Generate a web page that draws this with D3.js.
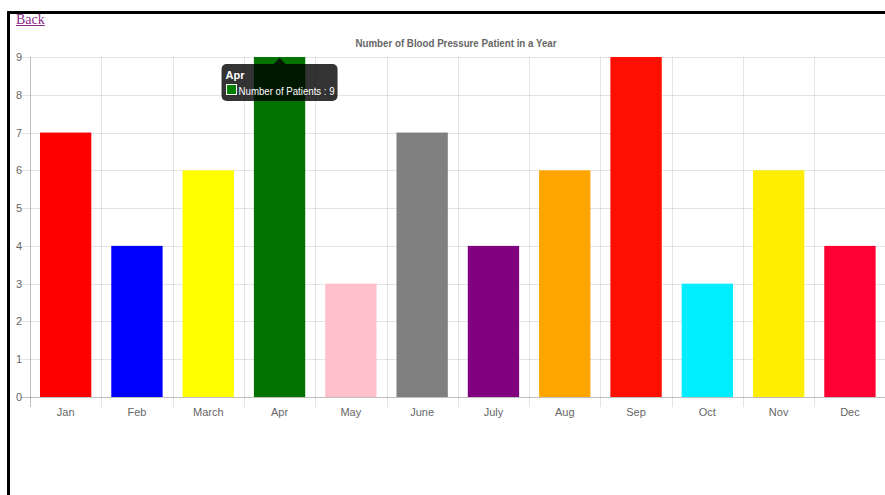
<!DOCTYPE html>
<html>
<head>
<meta charset="utf-8">
<style>
  body { margin: 0; background: #fff; }
  #frame { position: absolute; left: 7px; top: 11px; width: 900px; height: 500px;
           border-left: 3px solid #000; border-top: 3px solid #000; }
  #back { position: absolute; left: 16px; top: 12px; font-family: "Liberation Serif", "Times New Roman", serif;
          font-size: 14px; color: #8b2a8b; text-decoration: underline; }
  svg { position: absolute; left: 0; top: 0; }
</style>
</head>
<body>
<div id="frame"></div>
<a id="back" href="#">Back</a>
<svg width="885" height="495"></svg>
<script src="https://d3js.org/d3.v7.min.js"></script>
<script>

var months = ["Jan", "Feb", "March", "Apr", "May", "June", "July", "Aug", "Sep", "Oct", "Nov", "Dec"];
var patients = [7, 4, 6, 9, 3, 7, 4, 6, 9, 3, 6, 4];
var barColors = ["#ff0000", "#0000ff", "#ffff00", "#007300", "#ffc0cb", "#808080",
                 "#800080", "#ffa500", "#ff0f00", "#00eeff", "#ffee00", "#ff0033"];
var yTicks = [0, 1, 2, 3, 4, 5, 6, 7, 8, 9];
var title = "Number of Blood Pressure Patient in a Year";
var hoverIndex = 3;

var svg = d3.select("svg"),
    plotLeft = 30, plotRight = 885.6, plotTop = 57, plotBottom = 397;

var font = "'Liberation Sans', Arial, Helvetica, sans-serif";

var x = d3.scaleBand()
    .domain(months)
    .range([plotLeft, plotRight])
    .padding(0);

var y = d3.scaleLinear()
    .domain([0, 9])
    .range([plotBottom, plotTop]);

var bw = x.bandwidth();

svg.append("text")
    .attr("x", 456)
    .attr("y", 47)
    .attr("text-anchor", "middle")
    .attr("font-family", font)
    .attr("font-size", 11)
    .attr("font-weight", "bold")
    .attr("fill", "#666")
    .attr("textLength", 201)
    .attr("lengthAdjust", "spacingAndGlyphs")
    .text(title);

// horizontal grid
var gy = svg.append("g");
gy.selectAll("line")
  .data(yTicks)
  .enter().append("line")
    .attr("x1", plotLeft - 10)
    .attr("x2", plotRight)
    .attr("y1", function(d) { return Math.round(y(d)) + 0.5; })
    .attr("y2", function(d) { return Math.round(y(d)) + 0.5; })
    .attr("stroke", function(d) { return d == 0 ? "rgba(0,0,0,0.25)" : "rgba(0,0,0,0.1)"; })
    .attr("stroke-width", 1);

gy.selectAll("text")
  .data(yTicks)
  .enter().append("text")
    .attr("x", plotLeft - 8)
    .attr("y", function(d) { return y(d) + 4; })
    .attr("text-anchor", "end")
    .attr("font-family", font)
    .attr("font-size", 11)
    .attr("fill", "#666")
    .text(function(d) { return d; });

// vertical grid
var gx = svg.append("g");
gx.selectAll("line")
  .data(months)
  .enter().append("line")
    .attr("x1", function(d) { return Math.round(x(d)) + 0.5; })
    .attr("x2", function(d) { return Math.round(x(d)) + 0.5; })
    .attr("y1", plotTop)
    .attr("y2", plotBottom + 10)
    .attr("stroke", function(d, i) { return i == 0 ? "rgba(0,0,0,0.25)" : "rgba(0,0,0,0.1)"; })
    .attr("stroke-width", 1);

gx.selectAll("text")
  .data(months)
  .enter().append("text")
    .attr("x", function(d) { return x(d) + bw / 2; })
    .attr("y", plotBottom + 19)
    .attr("text-anchor", "middle")
    .attr("font-family", font)
    .attr("font-size", 11)
    .attr("fill", "#666")
    .text(function(d) { return d; });

// bars
svg.append("g")
  .selectAll("rect")
  .data(patients)
  .enter().append("rect")
    .attr("x", function(d, i) { return x(months[i]) + bw * 0.14; })
    .attr("width", bw * 0.72)
    .attr("y", function(d) { return y(d); })
    .attr("height", function(d) { return y(0) - y(d); })
    .attr("fill", function(d, i) { return barColors[i]; });

// tooltip on Apr
var cx = x(months[hoverIndex]) + bw / 2,
    ty = y(patients[hoverIndex]) + 7,
    tw = 116, th = 37, tx = cx - 58;

var tip = svg.append("g");
tip.append("rect")
    .attr("x", tx)
    .attr("y", ty)
    .attr("width", tw)
    .attr("height", th)
    .attr("rx", 5)
    .attr("fill", "rgba(0,0,0,0.8)");
tip.append("path")
    .attr("d", "M" + (cx - 6) + "," + ty + "L" + cx + "," + (ty - 6) + "L" + (cx + 6) + "," + ty + "Z")
    .attr("fill", "rgba(0,0,0,0.8)");
tip.append("text")
    .attr("x", tx + 4)
    .attr("y", ty + 15)
    .attr("font-family", font)
    .attr("font-size", 11)
    .attr("font-weight", "bold")
    .attr("fill", "#fff")
    .text(months[hoverIndex]);
tip.append("rect")
    .attr("x", tx + 5)
    .attr("y", ty + 20.5)
    .attr("width", 10)
    .attr("height", 10)
    .attr("fill", "#008000")
    .attr("stroke", "#fff")
    .attr("stroke-width", 1);
tip.append("text")
    .attr("x", tx + 17)
    .attr("y", ty + 30.5)
    .attr("font-family", font)
    .attr("font-size", 11)
    .attr("fill", "#fff")
    .attr("textLength", 96)
    .attr("lengthAdjust", "spacingAndGlyphs")
    .text("Number of Patients : " + patients[hoverIndex]);

</script>
</body>
</html>
